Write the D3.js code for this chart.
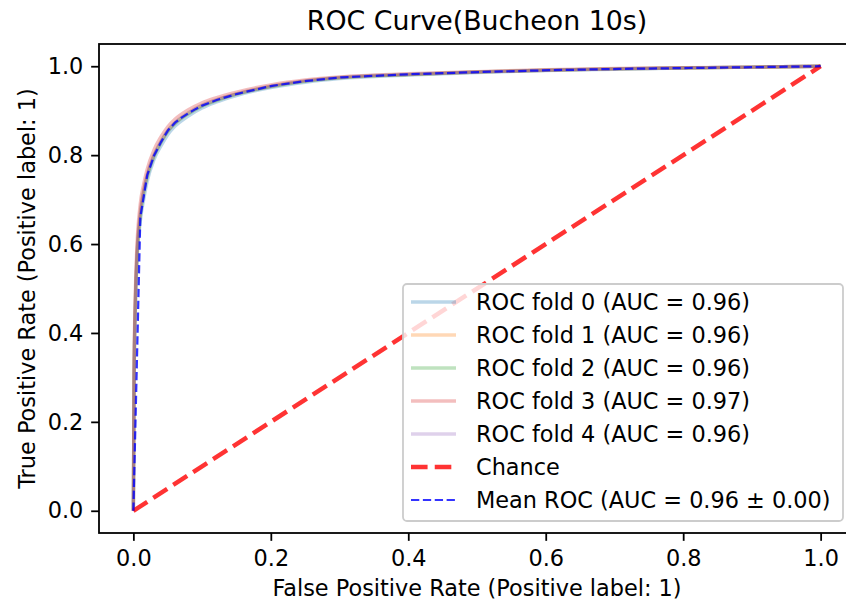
<!DOCTYPE html>
<html>
<head>
<meta charset="utf-8">
<script src="https://cdn.jsdelivr.net/npm/d3@7"></script>
<style>
  html, body { margin: 0; padding: 0; background: #fff; }
  svg { display: block; font-family: "DejaVu Sans", sans-serif; }
</style>
</head>
<body>
<svg id="chart" width="846" height="604"></svg>
<script>
// ROC curves of five cross-validation folds, their mean and the chance diagonal.
const title = "ROC Curve(Bucheon 10s)";
const xLabel = "False Positive Rate (Positive label: 1)";
const yLabel = "True Positive Rate (Positive label: 1)";
const tickValues = [0.0, 0.2, 0.4, 0.6, 0.8, 1.0];

// Per-fold ROC points (shared false-positive grid)
const foldFpr = [0, 0.001, 0.003, 0.005, 0.01, 0.015, 0.02, 0.03, 0.04, 0.05, 0.06, 0.08, 0.1, 0.12, 0.15, 0.2, 0.25, 0.3, 0.4, 0.5, 0.6, 0.7, 0.8, 0.9, 1.0];
const fold0Tpr = [0, 0.28, 0.46, 0.55, 0.65, 0.70, 0.74, 0.79, 0.82, 0.846, 0.864, 0.888, 0.906, 0.919, 0.934, 0.952, 0.964, 0.972, 0.980, 0.986, 0.990, 0.993, 0.996, 0.998, 1.0];
const fold1Tpr = [0, 0.30, 0.48, 0.57, 0.67, 0.72, 0.755, 0.80, 0.83, 0.855, 0.872, 0.895, 0.912, 0.924, 0.938, 0.955, 0.967, 0.974, 0.981, 0.987, 0.991, 0.994, 0.996, 0.998, 1.0];
const fold2Tpr = [0, 0.29, 0.47, 0.56, 0.66, 0.715, 0.75, 0.797, 0.828, 0.853, 0.870, 0.893, 0.910, 0.922, 0.937, 0.954, 0.966, 0.974, 0.981, 0.987, 0.991, 0.994, 0.996, 0.998, 1.0];
const fold3Tpr = [0, 0.32, 0.50, 0.59, 0.69, 0.735, 0.768, 0.812, 0.841, 0.864, 0.880, 0.902, 0.918, 0.929, 0.942, 0.958, 0.969, 0.976, 0.983, 0.988, 0.992, 0.995, 0.997, 0.998, 1.0];
const fold4Tpr = [0, 0.30, 0.48, 0.57, 0.67, 0.72, 0.755, 0.80, 0.83, 0.855, 0.872, 0.895, 0.912, 0.924, 0.938, 0.955, 0.967, 0.975, 0.982, 0.987, 0.991, 0.994, 0.996, 0.998, 1.0];
const foldTprs = [fold0Tpr, fold1Tpr, fold2Tpr, fold3Tpr, fold4Tpr];
const foldAuc = ["0.96", "0.96", "0.96", "0.97", "0.96"];
const foldColors = ["#1f77b4", "#ff7f0e", "#2ca02c", "#d62728", "#9467bd"];

// Mean ROC
const meanFpr = [0, 0.0101, 0.0202, 0.0303, 0.0404, 0.0505, 0.0606, 0.0707, 0.0808, 0.0909, 0.101, 0.1212, 0.1515, 0.202, 0.2525, 0.303, 0.404, 0.505, 0.606, 0.707, 0.808, 0.909, 1.0];
const meanTpr = [0, 0.66, 0.755, 0.80, 0.83, 0.856, 0.873, 0.885, 0.895, 0.904, 0.912, 0.924, 0.938, 0.956, 0.967, 0.975, 0.982, 0.987, 0.991, 0.994, 0.996, 0.998, 1.0];
const meanLabel = "Mean ROC (AUC = 0.96 \u00b1 0.00)";

// Chance diagonal
const chanceFpr = [0, 1];
const chanceTpr = [0, 1];

const svg = d3.select("#chart");
const plot = { left: 99, right: 855, top: 44, bottom: 533 };
const px = 2.24; // one point in pixels

const x = d3.scaleLinear().domain([-0.05, 1.05]).range([plot.left, plot.right]);
const y = d3.scaleLinear().domain([-0.05, 1.05]).range([plot.bottom, plot.top]);

const tickFont = 22.4;

// Axes
const xAxis = d3.axisBottom(x).tickValues(tickValues).tickFormat(d3.format(".1f"))
  .tickSize(3.5 * px).tickPadding(3.5 * px + 1.5).tickSizeOuter(0);
const yAxis = d3.axisLeft(y).tickValues(tickValues).tickFormat(d3.format(".1f"))
  .tickSize(3.5 * px).tickPadding(3.5 * px).tickSizeOuter(0);

const gx = svg.append("g").attr("transform", `translate(0,${plot.bottom})`).call(xAxis);
const gy = svg.append("g").attr("transform", `translate(${plot.left},0)`).call(yAxis);
[gx, gy].forEach(g => {
  g.select(".domain").remove();
  g.selectAll(".tick line").attr("stroke", "#000").attr("stroke-width", 0.8 * px);
  g.selectAll(".tick text").attr("fill", "#000")
    .style("font-size", tickFont + "px").style("font-family", "DejaVu Sans");
});

svg.append("defs").append("clipPath").attr("id", "plotClip")
  .append("rect").attr("x", plot.left).attr("y", plot.top)
  .attr("width", plot.right - plot.left).attr("height", plot.bottom - plot.top);

const curves = svg.append("g").attr("clip-path", "url(#plotClip)");

const foldLine = d3.line()
  .x((d, i) => x(foldFpr[i]))
  .y(d => y(d))
  .curve(d3.curveMonotoneX);

foldTprs.forEach((tpr, k) => {
  curves.append("path")
    .attr("d", foldLine(tpr))
    .attr("fill", "none")
    .attr("stroke", foldColors[k])
    .attr("stroke-opacity", 0.3)
    .attr("stroke-width", 1.5 * px)
    .attr("stroke-linejoin", "round")
    .attr("stroke-linecap", "butt");
});

curves.append("path")
  .attr("d", d3.line().x((d, i) => x(chanceFpr[i])).y(d => y(d))(chanceTpr))
  .attr("fill", "none")
  .attr("stroke", "#ff0000")
  .attr("stroke-opacity", 0.8)
  .attr("stroke-width", 2 * px)
  .attr("stroke-dasharray", `${3.7 * 2 * px} ${1.6 * 2 * px}`);

curves.append("path")
  .attr("d", d3.line().x((d, i) => x(meanFpr[i])).y(d => y(d))(meanTpr))
  .attr("fill", "none")
  .attr("stroke", "#0000ff")
  .attr("stroke-opacity", 0.8)
  .attr("stroke-width", 1 * px)
  .attr("stroke-dasharray", `${3.7 * px} ${1.6 * px}`);

// Frame
svg.append("rect")
  .attr("x", plot.left).attr("y", plot.top)
  .attr("width", plot.right - plot.left).attr("height", plot.bottom - plot.top)
  .attr("fill", "none").attr("stroke", "#000").attr("stroke-width", 0.8 * px);

// Title and axis labels
const cx = (plot.left + plot.right) / 2;
svg.append("text").attr("x", cx).attr("y", 30)
  .attr("text-anchor", "middle").style("font-size", "26.8px").text(title);
svg.append("text").attr("x", cx).attr("y", 596)
  .attr("text-anchor", "middle").style("font-size", tickFont + "px").text(xLabel);
svg.append("text")
  .attr("transform", `translate(35,${(plot.top + plot.bottom) / 2}) rotate(-90)`)
  .attr("text-anchor", "middle").style("font-size", tickFont + "px").text(yLabel);

// Legend
const legendItems = foldAuc.map((auc, k) => ({
  label: `ROC fold ${k} (AUC = ${auc})`, color: foldColors[k], opacity: 0.3,
  width: 1.5 * px, dash: null
})).concat([
  { label: "Chance", color: "#ff0000", opacity: 0.8, width: 2 * px, dash: `${3.7 * 2 * px} ${1.6 * 2 * px}` },
  { label: meanLabel, color: "#0000ff", opacity: 0.8, width: 1 * px, dash: `${3.7 * px} ${1.6 * px}` }
]);

const legend = { x: 403, y: 284, w: 440, h: 237, rowTop: 302, rowStep: 33 };
const lg = svg.append("g");
lg.append("rect")
  .attr("x", legend.x).attr("y", legend.y)
  .attr("width", legend.w).attr("height", legend.h)
  .attr("rx", 4).attr("ry", 4)
  .attr("fill", "#fff").attr("fill-opacity", 0.8)
  .attr("stroke", "#cccccc").attr("stroke-width", 1.8);

legendItems.forEach((it, i) => {
  const yy = legend.rowTop + i * legend.rowStep;
  lg.append("line")
    .attr("x1", 411).attr("x2", 456)
    .attr("y1", yy).attr("y2", yy)
    .attr("stroke", it.color).attr("stroke-opacity", it.opacity)
    .attr("stroke-width", it.width)
    .attr("stroke-dasharray", it.dash);
  lg.append("text")
    .attr("x", 476).attr("y", yy)
    .attr("dy", "0.36em")
    .style("font-size", tickFont + "px")
    .text(it.label);
});
</script>
</body>
</html>
